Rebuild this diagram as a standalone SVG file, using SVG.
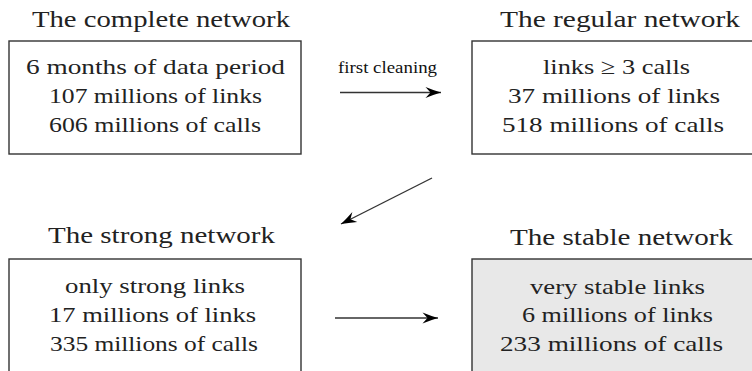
<svg xmlns="http://www.w3.org/2000/svg" width="752" height="371" viewBox="0 0 752 371">
  <style>
    .box { fill: #ffffff; stroke: #333333; stroke-width: 1.4; }
    .shaded { fill: #e8e8e8; }
    text { font-family: "Liberation Serif", serif; fill: #222222; }
    .title { font-size: 23px; }
    .body { font-size: 22px; }
    .label { font-size: 17px; fill: #111111; }
    .edge { fill: none; stroke: #333333; stroke-width: 1.4; marker-end: url(#stealth); }
  </style>
  <defs>
    <!-- stealth-style arrowhead with slightly concave flanks -->
    <marker id="stealth" markerUnits="userSpaceOnUse" viewBox="-17 -7 18 14" markerWidth="18" markerHeight="14" refX="0" refY="0" orient="auto">
      <path d="M0,0 Q-7,-2 -15.5,-5.5 L-10.5,0 L-15.5,5.5 Q-7,2 0,0 Z" fill="#000000"/>
    </marker>
  </defs>

  <rect width="752" height="371" fill="#ffffff"/>

  <g id="complete-network">
    <text class="title" x="32" y="27" textLength="258" lengthAdjust="spacingAndGlyphs">The complete network</text>
    <rect class="box" x="9" y="41" width="292" height="113"/>
    <text class="body" x="26" y="74" textLength="259" lengthAdjust="spacingAndGlyphs">6 months of data period</text>
    <text class="body" x="49" y="103" textLength="213" lengthAdjust="spacingAndGlyphs">107 millions of links</text>
    <text class="body" x="49" y="132" textLength="212" lengthAdjust="spacingAndGlyphs">606 millions of calls</text>
  </g>

  <g id="regular-network">
    <text class="title" x="500" y="26.5" textLength="240" lengthAdjust="spacingAndGlyphs">The regular network</text>
    <rect class="box" x="472" y="41" width="290" height="113"/>
    <text class="body" x="543" y="74" textLength="147" lengthAdjust="spacingAndGlyphs">links ≥ 3 calls</text>
    <text class="body" x="508" y="103" textLength="212" lengthAdjust="spacingAndGlyphs">37 millions of links</text>
    <text class="body" x="502" y="132" textLength="222" lengthAdjust="spacingAndGlyphs">518 millions of calls</text>
  </g>

  <g id="strong-network">
    <text class="title" x="48" y="243" textLength="227" lengthAdjust="spacingAndGlyphs">The strong network</text>
    <rect class="box" x="9" y="259" width="292" height="120"/>
    <text class="body" x="65" y="293" textLength="180" lengthAdjust="spacingAndGlyphs">only strong links</text>
    <text class="body" x="49" y="322" textLength="207" lengthAdjust="spacingAndGlyphs">17 millions of links</text>
    <text class="body" x="50" y="350.5" textLength="208" lengthAdjust="spacingAndGlyphs">335 millions of calls</text>
  </g>

  <g id="stable-network">
    <text class="title" x="510" y="245" textLength="223" lengthAdjust="spacingAndGlyphs">The stable network</text>
    <rect class="box shaded" x="472" y="259" width="290" height="120"/>
    <text class="body" x="530" y="294" textLength="175" lengthAdjust="spacingAndGlyphs">very stable links</text>
    <text class="body" x="522" y="322" textLength="191" lengthAdjust="spacingAndGlyphs">6 millions of links</text>
    <text class="body" x="500" y="350.5" textLength="223" lengthAdjust="spacingAndGlyphs">233 millions of calls</text>
  </g>

  <g id="connectors">
    <text class="label" x="338" y="73" textLength="99" lengthAdjust="spacingAndGlyphs">first cleaning</text>
    <path class="edge" d="M340,92.5 L441,92.5"/>
    <path class="edge" d="M432,178 L341,224"/>
    <path class="edge" d="M335,318 L438,318"/>
  </g>
</svg>
